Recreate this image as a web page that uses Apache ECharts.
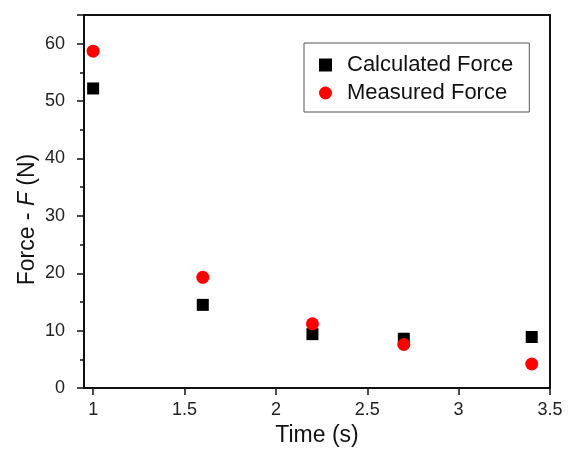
<!DOCTYPE html>
<html><head><meta charset="utf-8">
<script src="https://cdn.jsdelivr.net/npm/echarts@6/dist/echarts.min.js"></script>
<style>html,body{margin:0;padding:0;background:#fff}#c{width:569px;height:452px}</style>
</head><body><div id="c"></div>
<script>
var times = [1, 1.6, 2.2, 2.7, 3.4];
var calculatedForce = [52.2, 14.5, 9.4, 8.6, 8.9];
var measuredForce = [58.7, 19.3, 11.2, 7.6, 4.2];
var xTicks = [1, 1.5, 2, 2.5, 3, 3.5];

function pairs(xs, ys){ return xs.map(function(x,i){return [x, ys[i]];}); }

var chart = echarts.init(document.getElementById('c'));
var font = 'Liberation Sans, Arial, sans-serif';
chart.setOption({
  animation: false,
  backgroundColor: '#fff',
  grid: {left: 84, top: 15, right: 19, bottom: 63, show: true, borderColor: '#111', borderWidth: 2, backgroundColor: 'transparent'},
  legend: {
    left: 304, top: 43, orient: 'vertical',
    padding: [11, 16, 8, 15], itemGap: 6,
    itemWidth: 13, itemHeight: 13,
    borderColor: '#555', borderWidth: 1, backgroundColor: '#fff',
    textStyle: {fontFamily: font, fontSize: 22, color: '#111', padding: [0,0,0,10]},
    data: [{name: 'Calculated Force', icon: 'rect'}, {name: 'Measured Force', icon: 'circle'}]
  },
  xAxis: {
    type: 'value', min: 0.95, max: 3.5,
    name: 'Time (s)', nameLocation: 'middle', nameGap: 34,
    nameTextStyle: {fontFamily: font, fontSize: 23, color: '#111'},
    axisLine: {show: true, onZero: false, lineStyle: {color: '#111', width: 2}},
    axisTick: {show: true, inside: false, length: 7, lineStyle: {color: '#111', width: 1.5}, customValues: xTicks},
    axisLabel: {fontFamily: font, fontSize: 18, color: '#222', margin: 13, customValues: xTicks,
      formatter: function(v){return String(v);}},
    splitLine: {show: false}
  },
  yAxis: {
    type: 'value', min: 0, max: 65, interval: 10,
    name: '{a|Force - }{i|F}{a| (N)}', nameLocation: 'middle', nameGap: 45, nameRotate: 90,
    nameMoveOverlap: false,
    nameTextStyle: {padding: [0, 36, 0, 0], rich: {
      a: {fontFamily: font, fontSize: 23, color: '#111'},
      i: {fontFamily: font, fontSize: 23, color: '#111', fontStyle: 'italic'}
    }},
    axisLine: {show: true, onZero: false, lineStyle: {color: '#111', width: 2}},
    axisTick: {show: true, inside: false, length: 7, lineStyle: {color: '#111', width: 1.5}},
    minorTick: {show: true, splitNumber: 2, length: 4, lineStyle: {color: '#111', width: 1.5}},
    axisLabel: {fontFamily: font, fontSize: 18, color: '#222', margin: 19,
      formatter: function(v){ return v <= 60 ? String(v) : ''; }},
    splitLine: {show: false}
  },
  series: [{
    name: 'Calculated Force', type: 'scatter', symbol: 'rect', symbolSize: 12,
    itemStyle: {color: '#000', opacity: 1}, data: pairs(times, calculatedForce)
  }, {
    name: 'Measured Force', type: 'scatter', symbol: 'circle', symbolSize: 13,
    itemStyle: {color: '#ff0000', opacity: 1}, data: pairs(times, measuredForce)
  }]
});
</script></body></html>
